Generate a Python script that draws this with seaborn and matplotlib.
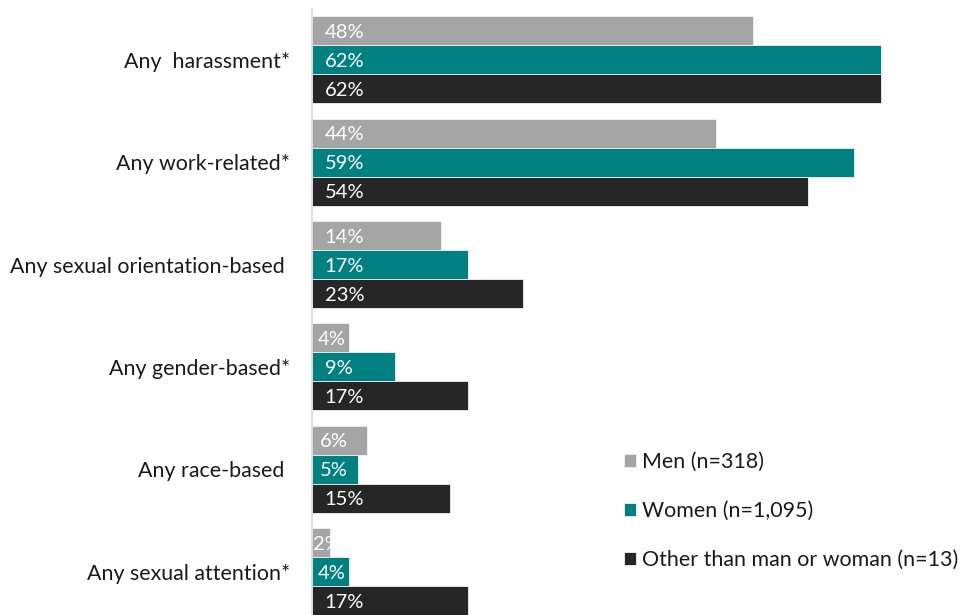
import matplotlib
matplotlib.use("Agg")
import matplotlib.pyplot as plt
import seaborn as sns
import pandas as pd

categories = [
    "Any  harassment*",
    "Any work-related*",
    "Any sexual orientation-based ",
    "Any gender-based*",
    "Any race-based ",
    "Any sexual attention*",
]
groups = ["Men (n=318)", "Women (n=1,095)", "Other than man or woman (n=13)"]
men = [48, 44, 14, 4, 6, 2]
women = [62, 59, 17, 9, 5, 4]
other = [62, 54, 23, 17, 15, 17]
colors = ["#A5A5A5", "#008080", "#262626"]

rows = []
for g, vals in zip(groups, [men, women, other]):
    for c, v in zip(categories, vals):
        rows.append({"category": c, "group": g, "value": v})
df = pd.DataFrame(rows)

sns.set_style("white")
plt.rcParams["font.family"] = ["Lato", "DejaVu Sans"]

fig = plt.figure(figsize=(9.63, 6.15), dpi=100)
ax = fig.add_axes([312 / 963, -8 / 615, 642.6 / 963, 614.5 / 615])

sns.barplot(
    data=df, y="category", x="value", hue="group", order=categories,
    hue_order=groups, palette=colors, orient="h", width=0.85,
    edgecolor="#f2f2f2", linewidth=0.6, saturation=1, ax=ax,
)

ax.set_xlim(0, 70)
ax.set_xlabel("")
ax.set_ylabel("")
ax.set_xticks([])
for s in ["top", "right", "bottom"]:
    ax.spines[s].set_visible(False)
ax.spines["left"].set_color("#d9d9d9")
ax.spines["left"].set_linewidth(1.2)
ax.tick_params(axis="y", length=0, pad=16, labelsize=15.4, labelcolor="#1a1a1a")

# value labels at the base of each bar
for container, vals in zip(ax.containers, [men, women, other]):
    for bar, v in zip(container, vals):
        yc = bar.get_y() + bar.get_height() / 2
        if v >= 8:
            x = 1.4
        else:
            x = max(0.15, min(0.9, v / 2 - 1.4))
        ax.text(x, yc, f"{v}%", color="white", fontsize=14.5,
                ha="left", va="center_baseline")

handles, labels = ax.get_legend_handles_labels()
leg = ax.legend(
    handles, labels, loc="upper left", bbox_to_anchor=(624 / 963, 1 - 452 / 615),
    bbox_transform=fig.transFigure, frameon=False, fontsize=15.4,
    handlelength=0.56, handleheight=0.56, handletextpad=0.28, labelspacing=1.36,
    borderpad=0, borderaxespad=0,
)
for t in leg.get_texts():
    t.set_color("#1a1a1a")

fig.savefig("out.png", dpi=100)
